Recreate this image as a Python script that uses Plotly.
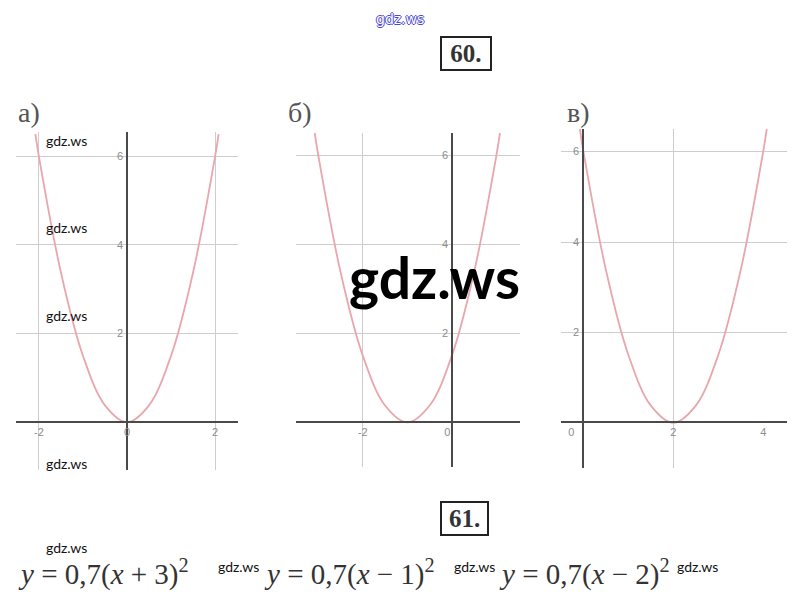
import plotly.graph_objects as go

# page body has an 8px margin: the figure is laid out in page pixels minus that offset
OFF = 8
W, H = 799 - 2 * OFF, 607 - 2 * OFF

# ---- data ----
# panel а)  y = 1.5 x^2
a_x = [-2.08, -2.0, -1.5, -1.0, -0.5, 0.0, 0.5, 1.0, 1.5, 2.0, 2.08]
a_y = [6.5, 6.0, 3.38, 1.5, 0.38, 0.0, 0.38, 1.5, 3.38, 6.0, 6.5]
# panel б)  y = 1.5 (x+1)^2
b_x = [-3.08, -3.0, -2.5, -2.0, -1.5, -1.0, -0.5, 0.0, 0.5, 1.0, 1.08]
b_y = [6.5, 6.0, 3.38, 1.5, 0.38, 0.0, 0.38, 1.5, 3.38, 6.0, 6.5]
# panel в)  y = 1.5 (x-2)^2
c_x = [-0.08, 0.0, 0.5, 1.0, 1.5, 2.0, 2.5, 3.0, 3.5, 4.0, 4.08]
c_y = [6.5, 6.0, 3.38, 1.5, 0.38, 0.0, 0.38, 1.5, 3.38, 6.0, 6.5]

a_xticks = [-2, 0, 2]
a_xtext = ["-2", "0", "2"]
b_xticks = [-2, 0]
b_xtext = ["-2", "0&nbsp;&nbsp;&nbsp;"]
c_xticks = [0, 2, 4]
c_xtext = ["0&nbsp;&nbsp;&nbsp;&nbsp;&nbsp;&nbsp;&nbsp;&nbsp;", "2", "4"]
yticks = [2, 4, 6]
ytext = ["2", "4", "6"]
a_xgrid = [-2, 2]
b_xgrid = [-2]
c_xgrid = [2]

panel_labels = ["а)", "б)", "в)"]
formulas = [
    "<i>y</i> = 0,7(<i>x</i> + 3)<sup>2</sup>",
    "<i>y</i> = 0,7(<i>x</i> − 1)<sup>2</sup>",
    "<i>y</i> = 0,7(<i>x</i> − 2)<sup>2</sup>",
]
numbers = ["&nbsp;60.&nbsp;", "&#8201;61.&#8201;"]
watermark = "gdz.ws"


def fx(p):
    return (p - OFF) / W


def fy(p):
    return 1 - (p - OFF) / H


CURVE = "#e8a6ad"
GRID = "#cdcdcd"
AXIS = "#4a4a4a"
TICKFONT = dict(family="Liberation Sans", size=11, color="#8c8c8c")

fig = go.Figure()
panels = [
    # xs, ys, xrange, xdom(px), yrange, ydom(px), origin px (x, y), xticks, xtext, xgrid
    (a_x, a_y, [-2.52, 2.52], (16, 238), [-1.08, 6.55], (470, 132), (127, 422), a_xticks, a_xtext, a_xgrid),
    (b_x, b_y, [-3.5, 1.53], (296, 520), [-1.0, 6.5], (467, 133), (452, 422), b_xticks, b_xtext, b_xgrid),
    (c_x, c_y, [-0.5, 4.53], (561, 787), [-1.0, 6.5], (468, 129), (583, 422), c_xticks, c_xtext, c_xgrid),
]

layout_axes = {}
for i, (xs, ys, xr, xd, yr, yd, org, xt, xtt, xg) in enumerate(panels, start=1):
    sfx = "" if i == 1 else str(i)
    fig.add_trace(go.Scatter(
        x=xs, y=ys, mode="lines", line=dict(color=CURVE, width=1.8, shape="spline", smoothing=1.0),
        xaxis="x" + sfx, yaxis="y" + sfx, showlegend=False, hoverinfo="skip"))
    layout_axes["xaxis" + sfx] = dict(
        domain=[fx(xd[0]), fx(xd[1])], range=xr, anchor="free", position=fy(org[1]),
        showgrid=False, zeroline=False, showline=True, linecolor=AXIS, linewidth=1.5,
        tickmode="array", tickvals=xt, ticktext=xtt, ticks="", tickfont=TICKFONT,
        minor=dict(tickmode="array", tickvals=xg, showgrid=True, gridcolor=GRID, gridwidth=1, ticks=""),
        fixedrange=True,
    )
    layout_axes["yaxis" + sfx] = dict(
        domain=[fy(yd[0]), fy(yd[1])], range=yr, anchor="free", position=fx(org[0]),
        showgrid=True, gridcolor=GRID, gridwidth=1, zeroline=False, showline=True,
        linecolor=AXIS, linewidth=1.5, tickmode="array", tickvals=yticks, ticktext=ytext,
        ticks="", tickfont=TICKFONT, ticklabelstandoff=1, fixedrange=True,
    )

annotations = []
# panel labels
for lbl, px_ in zip(panel_labels, [16, 286, 565]):
    annotations.append(dict(text=lbl, x=fx(px_), y=fy(112), xref="paper", yref="paper",
                            xanchor="left", yanchor="middle", showarrow=False,
                            font=dict(family="Liberation Serif", size=28, color="#555555")))
# boxed numbers
for num, (cx, cy) in zip(numbers, [(466, 54), (464, 518)]):
    annotations.append(dict(text="<b>" + num + "</b>", x=fx(cx), y=fy(cy), xref="paper", yref="paper",
                            xanchor="center", yanchor="middle", showarrow=False,
                            bordercolor="#222222", borderwidth=2, borderpad=2, bgcolor="white",
                            font=dict(family="Liberation Serif", size=25, color="#333333")))
# formulas
for ftxt, px_ in zip(formulas, [16, 262, 497]):
    annotations.append(dict(text=ftxt, x=fx(px_), y=fy(572), xref="paper", yref="paper",
                            xanchor="left", yanchor="middle", showarrow=False,
                            font=dict(family="Liberation Serif", size=29, color="#333333")))
# watermarks (small)
for (px_, py_) in [(44, 140), (44, 227), (44, 315), (44, 463), (44, 547), (216, 566), (452, 566), (675, 566)]:
    annotations.append(dict(text=watermark, x=fx(px_), y=fy(py_), xref="paper", yref="paper",
                            xanchor="left", yanchor="middle", showarrow=False,
                            font=dict(family="Lato", size=14, color="#111111")))
# watermark (big)
annotations.append(dict(text="<b>" + watermark + "</b>", x=fx(434), y=fy(277), xref="paper", yref="paper",
                        xanchor="center", yanchor="middle", showarrow=False,
                        font=dict(family="Lato", size=57, color="#000000")))
# watermark (top, outlined blue)
annotations.append(dict(text=watermark, x=fx(400), y=fy(9), xref="paper", yref="paper",
                        xanchor="center", yanchor="top", showarrow=False,
                        font=dict(family="DejaVu Sans", size=14, color="white",
                                  shadow="1px 0 0 #4a4ad0, -1px 0 0 #4a4ad0, 0 1px 0 #4a4ad0, 0 -1px 0 #4a4ad0")))

fig.update_layout(
    width=W, height=H, autosize=False,
    margin=dict(l=0, r=0, t=0, b=0),
    paper_bgcolor="white", plot_bgcolor="white",
    annotations=annotations,
    **layout_axes,
)

fig.write_html("out.html")
